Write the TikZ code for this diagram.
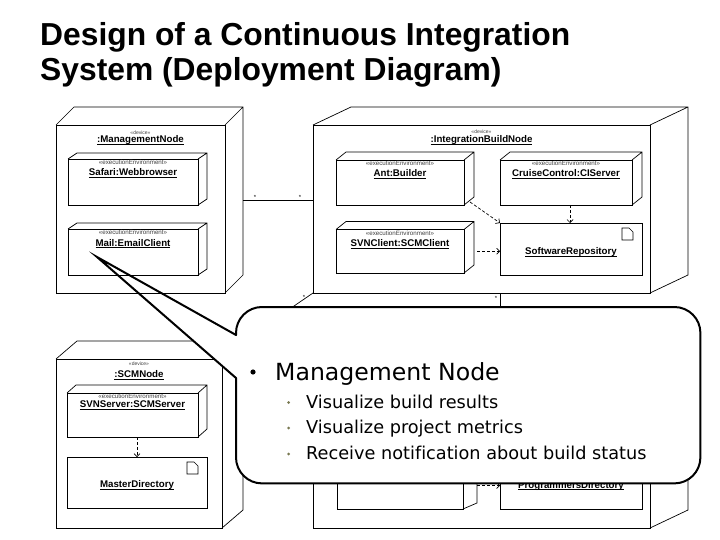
\documentclass[tikz,border=0pt]{standalone}
\usepackage{fontspec}
\setmainfont{Liberation Sans}
\newfontfamily\calloutfont[Ligatures=NoCommon]{DejaVu Sans}
\usetikzlibrary{arrows.meta}
\newcommand\cubeface[3]{\draw[edge] (#1.north west) -- ++(#2,-#3) -- ([shift={(#2,-#3)}]#1.north east) -- ([shift={(#2,-#3)}]#1.south east) -- (#1.south east) (#1.north east) -- ++(#2,-#3);}
\newcommand\docicon[1]{\draw[edge, line width=0.6pt] ([shift={(-20,5)}]#1.north east) -- ++(7,0) -- ++(4,4) -- ++(0,8) -- ++(-11,0) -- cycle;}
\newcommand\ulname[1]{\setbox0=\hbox{#1}\rlap{\rule[-1.6pt]{\wd0}{0.55pt}}\box0}
\definecolor{bulletol}{RGB}{120,120,80}
\begin{document}
\begin{tikzpicture}[x=1pt,y=-1pt,
  edge/.style={line width=0.7pt},
  box/.style={draw, line width=0.7pt, anchor=north west, inner sep=0pt, outer sep=0pt},
  stereo/.style={font=\fontsize{5}{6}\selectfont, text=black!75, inner sep=0pt},
  stereoE/.style={font=\fontsize{6.2}{7}\selectfont, text=black!75, inner sep=0pt},
  nm/.style={font=\bfseries\fontsize{9.7}{11}\selectfont, inner sep=0pt, anchor=base},
  dep/.style={line width=0.7pt, dash pattern=on 3pt off 2pt, -{Straight Barb[length=3pt,width=6pt]}},
  mult/.style={font=\fontsize{6}{6}\selectfont, inner sep=0pt},
  callout/.style={line width=2pt, line join=miter, line cap=round},
  big/.style={font=\calloutfont\fontsize{23.6}{28}\selectfont, inner sep=0pt, anchor=base west},
  small/.style={font=\calloutfont\fontsize{17.7}{21}\selectfont, inner sep=0pt, anchor=base west},
  ttl/.style={font=\bfseries\fontsize{31.8}{35}\selectfont, inner sep=0pt, anchor=base west},
]
\useasboundingbox (0,0) rectangle (720,540);
\fill[white] (0,0) rectangle (720,540);

% title
\node[ttl] (title1) at (40,46) {Design of a Continuous Integration};
\node[ttl] (title2) at (40,81) {System (Deployment Diagram)};

% bottom-right node (mostly hidden)
\node[box, minimum width=337pt, minimum height=183pt] (B) at (313,345) {};
\cubeface{B}{38}{18}
\node[box, minimum width=126pt, minimum height=43pt] (HB) at (337,466) {};
\cubeface{HB}{14}{6}
\node[box, minimum width=142pt, minimum height=52pt] (PD) at (500,457) {};
\docicon{PD}
\node[nm] (PDn) at (571,488) {\ulname{ProgrammersDirectory}};
\coordinate (hbo) at ([shift={(14,-2)}]HB.east);
\draw[dep] (hbo) -- (hbo -| PD.west);

% SCM node
\node[box, minimum width=166pt, minimum height=169pt] (S) at (56,359) {};
\cubeface{S}{21}{18}
\node[stereo] (Sst) at (139,364) {«device»};
\node[nm] (Sn) at (139,377.5) {\ulname{:SCMNode}};
\node[box, minimum width=131pt, minimum height=44pt] (SVNS) at (67,393) {};
\cubeface{SVNS}{9}{8}
\node[stereoE] (SVNSst) at (132.5,396) {«executionEnvironment»};
\node[nm] (SVNSn) at (132.5,407.5) {\ulname{SVNServer:SCMServer}};
\node[box, minimum width=140pt, minimum height=51pt] (MD) at (67,457) {};
\docicon{MD}
\node[nm] (MDn) at (137,487.5) {\ulname{MasterDirectory}};
\coordinate (d1) at ([xshift=4.5pt]SVNS.south);
\draw[dep] (d1) -- (d1 |- MD.north);

% Integration build node
\node[box, minimum width=337pt, minimum height=168pt] (I) at (313,125) {};
\cubeface{I}{38}{18}
\node[stereo] (Ist) at (481.5,132) {«device»};
\node[nm] (In) at (481.5,143) {\ulname{:IntegrationBuildNode}};
\node[box, minimum width=128pt, minimum height=45pt] (Ant) at (336,160) {};
\cubeface{Ant}{10}{8}
\node[stereoE] (Antst) at (400,163.5) {«executionEnvironment»};
\node[nm] (Antn) at (400,176.5) {\ulname{Ant:Builder}};
\node[box, minimum width=132pt, minimum height=45pt] (CC) at (500,160) {};
\cubeface{CC}{10}{8}
\node[stereoE] (CCst) at (566,163.5) {«executionEnvironment»};
\node[nm] (CCn) at (566,176.5) {\ulname{CruiseControl:CIServer}};
\node[box, minimum width=128pt, minimum height=43.5pt] (SVNC) at (336,229.5) {};
\cubeface{SVNC}{10}{8}
\node[stereoE] (SVNCst) at (400,233) {«executionEnvironment»};
\node[nm] (SVNCn) at (400,246.5) {\ulname{SVNClient:SCMClient}};
\node[box, minimum width=142pt, minimum height=52pt] (SR) at (500,223) {};
\docicon{SR}
\node[nm] (SRn) at (571,254.5) {\ulname{SoftwareRepository}};
\draw[dep] ([shift={(6,-3)}]Ant.south east) -- (SR.north west);
\coordinate (d2) at ([xshift=4pt]CC.south);
\draw[dep] (d2) -- (d2 |- SR.north);
\coordinate (d3) at ([xshift=13pt]SVNC.east);
\draw[dep] (d3) -- (d3 -| SR.west);

% hidden connectors
\draw[edge] (I.south west) -- ([shift={(21,-18)}]S.north east);
\node[mult] (m3) at (304,297) {*};
\coordinate (Ib) at ([xshift=18.5pt]I.south);
\draw[edge] (Ib) -- (Ib |- B.north);
\node[mult] (m4) at (496,298) {*};

% callout fill
\node[fill=white, rounded corners=26pt, minimum width=464pt, minimum height=176pt, anchor=north west, inner sep=0pt] (C) at (236,307) {};
\coordinate (tip) at (97,257);
\coordinate (pa) at (236,335);
\coordinate (pb) at (236,378);
\fill[white] (tip) -- (pa) -- (pb) -- cycle;

% Management node
\node[box, minimum width=169pt, minimum height=168pt] (M) at (56,125) {};
\cubeface{M}{18}{18}
\node[stereo] (Mst) at (140.5,133) {«device»};
\node[nm] (Mn) at (140.5,143) {\ulname{:ManagementNode}};
\node[box, minimum width=130pt, minimum height=46pt] (Saf) at (68,159) {};
\cubeface{Saf}{9}{6}
\node[stereoE] (Safst) at (133,162.5) {«executionEnvironment»};
\node[nm] (Safn) at (133,176) {\ulname{Safari:Webbrowser}};
\node[box, minimum width=130pt, minimum height=46pt] (Mail) at (68,229) {};
\cubeface{Mail}{9}{6}
\node[stereoE] (Mailst) at (133,232.5) {«executionEnvironment»};
\node[nm] (Mailn) at (133,246) {\ulname{Mail:EmailClient}};
\coordinate (Mr) at ([shift={(18,75)}]M.north east);
\draw[edge] (Mr) -- (Mr -| I.west);
\node[mult] (m1) at (255,197) {*};
\node[mult] (m2) at (300,197) {*};

% callout outline
\draw[callout, rounded corners=26pt] (pa) -- (C.north west) -- (C.north east) -- (C.south east) -- (C.south west) -- (pb);
\draw[callout] (pa) -- (tip) -- (pb);

% callout text
\fill (253,372) circle (2.6pt);
\node[big] (t0) at (275,380.5) {Management Node};
\fill[bulletol] (288.5,402.5) circle (1.5pt);
\node[small] (t1) at (306,408) {Visualize build results};
\fill[bulletol] (288.5,428) circle (1.5pt);
\node[small] (t2) at (306,433.5) {Visualize project metrics};
\fill[bulletol] (288.5,454) circle (1.5pt);
\node[small] (t3) at (306,459.5) {Receive notification about build status};
\end{tikzpicture}
\end{document}
